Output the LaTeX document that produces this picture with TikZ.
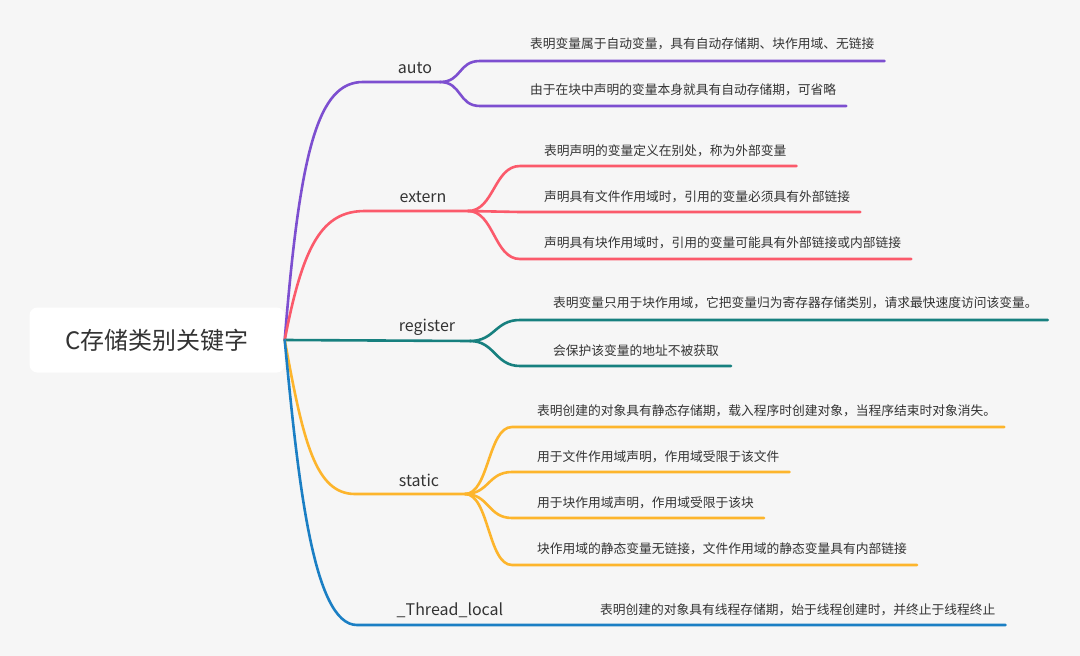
\documentclass[tikz,border=0pt]{standalone}
\usepackage{fontspec}
\setmainfont{Noto Sans CJK SC}
\usepackage{tikz}
\usetikzlibrary{positioning, calc}

\definecolor{bgcol}{HTML}{F6F6F6}
\definecolor{txtcol}{HTML}{333333}
\definecolor{autocol}{HTML}{7D4FD0}
\definecolor{externcol}{HTML}{FB5A6B}
\definecolor{registercol}{HTML}{17807F}
\definecolor{staticcol}{HTML}{FDB52C}
\definecolor{threadcol}{HTML}{1B7FC4}

\tikzset{
    rootbox/.style={fill=white, rounded corners=8pt, minimum width=255, minimum height=65, text=txtcol, font=\fontsize{24}{28}\selectfont},
    kw/.style={inner sep=0pt, text=txtcol, font=\fontsize{16}{19}\selectfont},
    leaf/.style={anchor=west, inner sep=0pt, text=txtcol, font=\fontsize{12.75}{15}\selectfont},
    twig/.style={line width=2.6pt, line cap=round},
}

\begin{document}
\begin{tikzpicture}[x=1pt, y=-1pt]
                    \fill[bgcol] (0,0) rectangle (1080,656);
                    \useasboundingbox (0,0) rectangle (1080,656);
                    \node[rootbox] (root) at (157,340) {C存储类别关键字};
                    % auto
                    \node[kw] (auto) at (415,68) {auto};
                    \coordinate (autoA) at (363,82);
                    \coordinate (autoB) at (440,82);
                    \node[leaf] (auto1) at (530,44) {表明变量属于自动变量，具有自动存储期、块作用域、无链接};
                    \node[leaf] (auto2) at (530,90) {由于在块中声明的变量本身就具有自动存储期，可省略};
                    \coordinate (auto1s) at (480,61);
                    \coordinate (auto2s) at (480,106);
                    \begin{scope}[twig, autocol]
                        \draw (root.east) .. controls (300,150) and (318,82) .. (autoA) -- (autoB);
                        \draw (autoB) .. controls (462,82) and (458,61) .. (auto1s) -- ($(auto1s -| auto1.east)+(10,0)$);
                        \draw (autoB) .. controls (462,82) and (458,106) .. (auto2s) -- ($(auto2s -| auto2.east)+(10,0)$);
                    \end{scope}
                    % extern
                    \node[kw] (extern) at (423,197) {extern};
                    \coordinate (externA) at (365,211);
                    \coordinate (externB) at (468,211);
                    \node[leaf] (extern1) at (544,151) {表明声明的变量定义在别处，称为外部变量};
                    \node[leaf] (extern2) at (544,197) {声明具有文件作用域时，引用的变量必须具有外部链接};
                    \node[leaf] (extern3) at (544,243) {声明具有块作用域时，引用的变量可能具有外部链接或内部链接};
                    \coordinate (extern1s) at (520,166);
                    \coordinate (extern2s) at (520,212);
                    \coordinate (extern3s) at (520,259);
                    \begin{scope}[twig, externcol]
                        \draw (root.east) .. controls (303,245) and (322,211) .. (externA) -- (externB);
                        \draw (externB) .. controls (494,211) and (494,166) .. (extern1s) -- ($(extern1s -| extern1.east)+(10,0)$);
                        \draw (externB) .. controls (494,211) and (494,212) .. (extern2s) -- ($(extern2s -| extern2.east)+(10,0)$);
                        \draw (externB) .. controls (494,211) and (494,259) .. (extern3s) -- ($(extern3s -| extern3.east)+(10,0)$);
                    \end{scope}
                    % register
                    \node[kw] (register) at (427,327) {register};
                    \coordinate (registerB) at (470,341);
                    \node[leaf] (register1) at (553,303) {表明变量只用于块作用域，它把变量归为寄存器存储类别，请求最快速度访问该变量。};
                    \node[leaf] (register2) at (553,351) {会保护该变量的地址不被获取};
                    \coordinate (register1s) at (520,320);
                    \coordinate (register2s) at (520,366);
                    \begin{scope}[twig, registercol]
                        \draw (root.east) -- (registerB);
                        \draw (registerB) .. controls (495,341) and (495,320) .. (register1s) -- ($(register1s -| register1.east)+(10,0)$);
                        \draw (registerB) .. controls (495,341) and (495,366) .. (register2s) -- ($(register2s -| register2.east)+(12,0)$);
                    \end{scope}
                    % static
                    \node[kw] (static) at (419,480) {static};
                    \coordinate (staticA) at (355,494);
                    \coordinate (staticB) at (465,494);
                    \node[leaf] (static1) at (537,411) {表明创建的对象具有静态存储期，载入程序时创建对象，当程序结束时对象消失。};
                    \node[leaf] (static2) at (537,457) {用于文件作用域声明，作用域受限于该文件};
                    \node[leaf] (static3) at (537,503) {用于块作用域声明，作用域受限于该块};
                    \node[leaf] (static4) at (537,549) {块作用域的静态变量无链接，文件作用域的静态变量具有内部链接};
                    \coordinate (static1s) at (512,427);
                    \coordinate (static2s) at (512,472);
                    \coordinate (static3s) at (512,518);
                    \coordinate (static4s) at (512,565);
                    \begin{scope}[twig, staticcol]
                        \draw (root.east) .. controls (303,440) and (315,494) .. (staticA) -- (staticB);
                        \draw (staticB) .. controls (489,494) and (488,427) .. (static1s) -- ($(static1s -| static1.east)+(8,0)$);
                        \draw (staticB) .. controls (489,494) and (488,472) .. (static2s) -- ($(static2s -| static2.east)+(10,0)$);
                        \draw (staticB) .. controls (489,494) and (488,518) .. (static3s) -- ($(static3s -| static3.east)+(10,0)$);
                        \draw (staticB) .. controls (489,494) and (488,565) .. (static4s) -- ($(static4s -| static4.east)+(10,0)$);
                    \end{scope}
                    % _Thread_local
                    \node[kw] (thread) at (450,610) {\_Thread\_local};
                    \coordinate (threadA) at (357,625);
                    \node[leaf] (thread1) at (600,610) {表明创建的对象具有线程存储期，始于线程创建时，并终止于线程终止};
                    \begin{scope}[twig, threadcol]
                        \draw (root.east) .. controls (298,480) and (313,625) .. (threadA) -- ($(threadA -| thread1.east)+(10,0)$);
                    \end{scope}
                \end{tikzpicture}
\end{document}
